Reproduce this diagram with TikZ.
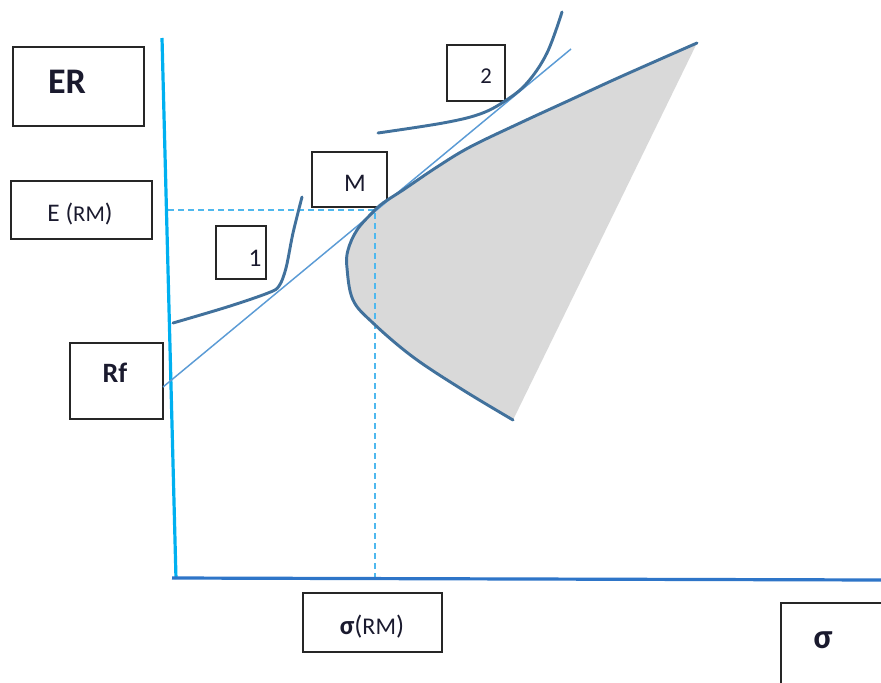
\documentclass[tikz,border=0pt]{standalone}
\usepackage{fontspec}
\setmainfont{Carlito}
\definecolor{yaxis}{HTML}{00B0F0}
\definecolor{xaxis}{HTML}{2E75C8}
\definecolor{curveblue}{HTML}{41719C}
\definecolor{lineblue}{HTML}{5B9BD5}
\definecolor{dashblue}{HTML}{4FB8EE}
\definecolor{regiongray}{HTML}{D9D9D9}
\definecolor{txt}{HTML}{1A1A2E}
\tikzset{
  labelbox/.style={draw=black!85, line width=1.2pt, inner sep=0pt},
  labeltext/.style={inner sep=0pt, text=txt},
  curve/.style={draw=curveblue, line width=2.2pt, line cap=round},
  guide/.style={draw=dashblue, line width=1.1pt, dash pattern=on 4.5pt off 3pt},
}
\def\frontierpts{(513,420) (463,390) (413,357) (373,323) (353,300) (347,268) (348,250) (357,230) (372,213) (383,203) (403,190) (437,167) (470,147) (520,123) (570,100) (620,77) (697,43)}
\begin{document}
\begin{tikzpicture}[x=0.75pt,y=-0.75pt]
\useasboundingbox (0,0) rectangle (881,682);
% boxes
\draw[labelbox] (13,47) rectangle (144,126);
\draw[labelbox] (11,181) rectangle (152,239);
\draw[labelbox] (70,343) rectangle (163,419);
\draw[labelbox] (312,152) rectangle (387,207);
\draw[labelbox] (216,226) rectangle (266,279);
\draw[labelbox] (447,45) rectangle (505,101);
\draw[labelbox] (303,593) rectangle (442,652);
\draw[labelbox] (781,603) rectangle (892,695);
% labels
\node[labeltext, font=\fontsize{27}{30}\selectfont\bfseries] (er) at (67,82) {ER};
\node[labeltext, font=\fontsize{19}{22}\selectfont] (erm) at (80,214) {E ({\fontsize{17}{20}\selectfont RM})};
\node[labeltext, font=\fontsize{21}{24}\selectfont\bfseries] (rf) at (115,373) {Rf};
\node[labeltext, font=\fontsize{19}{22}\selectfont] (m) at (355,183) {M};
\node[labeltext, font=\fontsize{19}{22}\selectfont] (one) at (255,258) {1};
\node[labeltext, font=\fontsize{17}{20}\selectfont] (two) at (486,76) {2};
\node[labeltext, font=\fontsize{20}{24}\selectfont] (srm) at (372,627) {\textbf{σ}({\fontsize{18}{21}\selectfont RM})};
\node[labeltext, font=\fontsize{26}{30}\selectfont\bfseries] (sig) at (823,640) {σ};
% shaded feasible region
\fill[regiongray] plot[smooth, tension=0.6] coordinates {\frontierpts} -- cycle;
% guide lines
\coordinate (M) at (375,210);
\coordinate (my) at (168,210);
\coordinate (mx) at (375,578);
\draw[guide] (my) -- (M) -- (mx);
% axes
\coordinate (ytop) at (162,38);
\coordinate (origin) at (176,579);
\coordinate (xstart) at (172,578);
\coordinate (xend) at (881,580);
\draw[yaxis, line width=2.4pt] (ytop) -- (origin);
\draw[xaxis, line width=2.4pt] (xstart) -- (xend);
% tangent line
\coordinate (tA) at (163,387);
\coordinate (tB) at (571,49);
\draw[lineblue, line width=1.1pt] (tA) -- (tB);
% efficient frontier
\draw[curve] plot[smooth, tension=0.6] coordinates {\frontierpts};
% indifference curves
\draw[curve] plot[smooth, tension=0.55] coordinates {(173,323) (227,307) (268,293) (279,286) (286,268) (293,233) (302,197)};
\draw[curve] plot[smooth, tension=0.6] coordinates {(378,133) (443,123) (480,114) (505,101) (527,83) (547,53) (562,12)};
\end{tikzpicture}
\end{document}
